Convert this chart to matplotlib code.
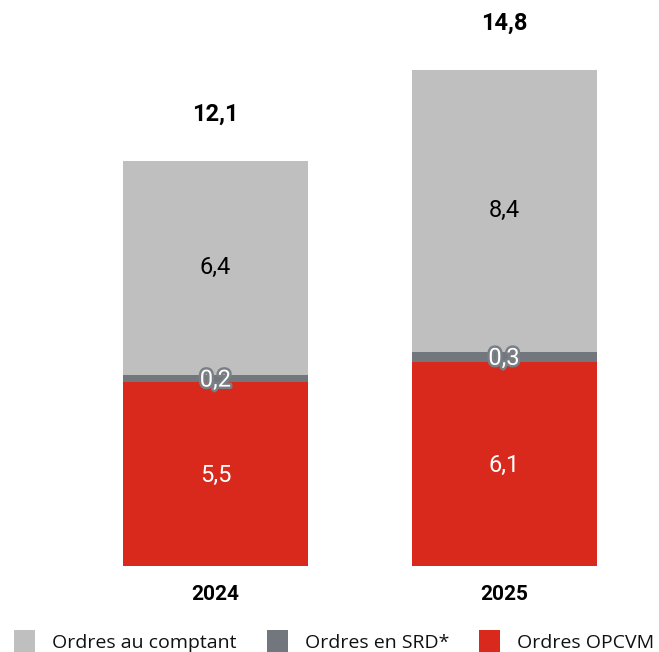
import matplotlib.pyplot as plt
import matplotlib.patheffects as pe
from matplotlib.patches import Rectangle

years = ['2024', '2025']
opcvm = [5.5, 6.1]
srd = [0.2, 0.3]
comptant = [6.4, 8.4]
totals = ['12,1', '14,8']
legend_labels = ['Ordres au comptant', 'Ordres en SRD*', 'Ordres OPCVM']

c_comptant = '#bfbfbf'
c_srd = '#72777e'
c_opcvm = '#d9291c'

W, H = 659, 652
fig = plt.figure(figsize=(W / 100, H / 100), dpi=100)
ax = fig.add_axes([0, 0.1319, 1, 0.8374])

x = [0, 1]
w = 0.641
ax.bar(x, opcvm, w, color=c_opcvm)
bot2 = [a for a in opcvm]
ax.bar(x, srd, w, bottom=bot2, color=c_srd)
bot3 = [a + b for a, b in zip(opcvm, srd)]
ax.bar(x, comptant, w, bottom=bot3, color=c_comptant)

fmt = lambda v: ('%.1f' % v).replace('.', ',')
for i in x:
    ax.text(i, opcvm[i] / 2 - 0.05, fmt(opcvm[i]), ha='center', va='center',
            color='white', fontsize=17, family='Roboto')
    t = ax.text(i, bot2[i] + srd[i] / 2 - 0.05, fmt(srd[i]), ha='center', va='center',
                color='white', fontsize=17, family='Roboto')
    t.set_path_effects([pe.withStroke(linewidth=3.5, foreground='#7a7f85')])
    ax.text(i, bot3[i] + comptant[i] / 2, fmt(comptant[i]), ha='center', va='center',
            color='black', fontsize=17, family='Roboto')
    top = bot3[i] + comptant[i]
    ax.text(i, top + 1.4, totals[i], ha='center', va='center',
            color='black', fontsize=17, fontweight='bold', family='Roboto')
    ax.text(i, -0.85, years[i], ha='center', va='center',
            color='black', fontsize=15, fontweight='bold', family='Roboto')

ax.set_xlim(-0.747, 1.537)
ax.set_ylim(0, 16.3)
ax.axis('off')

# legend, placed by hand along the bottom edge
sq_x = [14, 267, 479]
txt_x = [52, 305, 517]
for sx, tx, col, lab in zip(sq_x, txt_x, [c_comptant, c_srd, c_opcvm], legend_labels):
    fig.add_artist(Rectangle((sx / W, 0), 21 / W, 22 / H, transform=fig.transFigure,
                             color=col, lw=0))
    fig.text(tx / W, 4 / H, lab, ha='left', va='baseline', fontsize=14,
             family='Open Sans', color='#111111')

fig.savefig('out.png', dpi=100)
